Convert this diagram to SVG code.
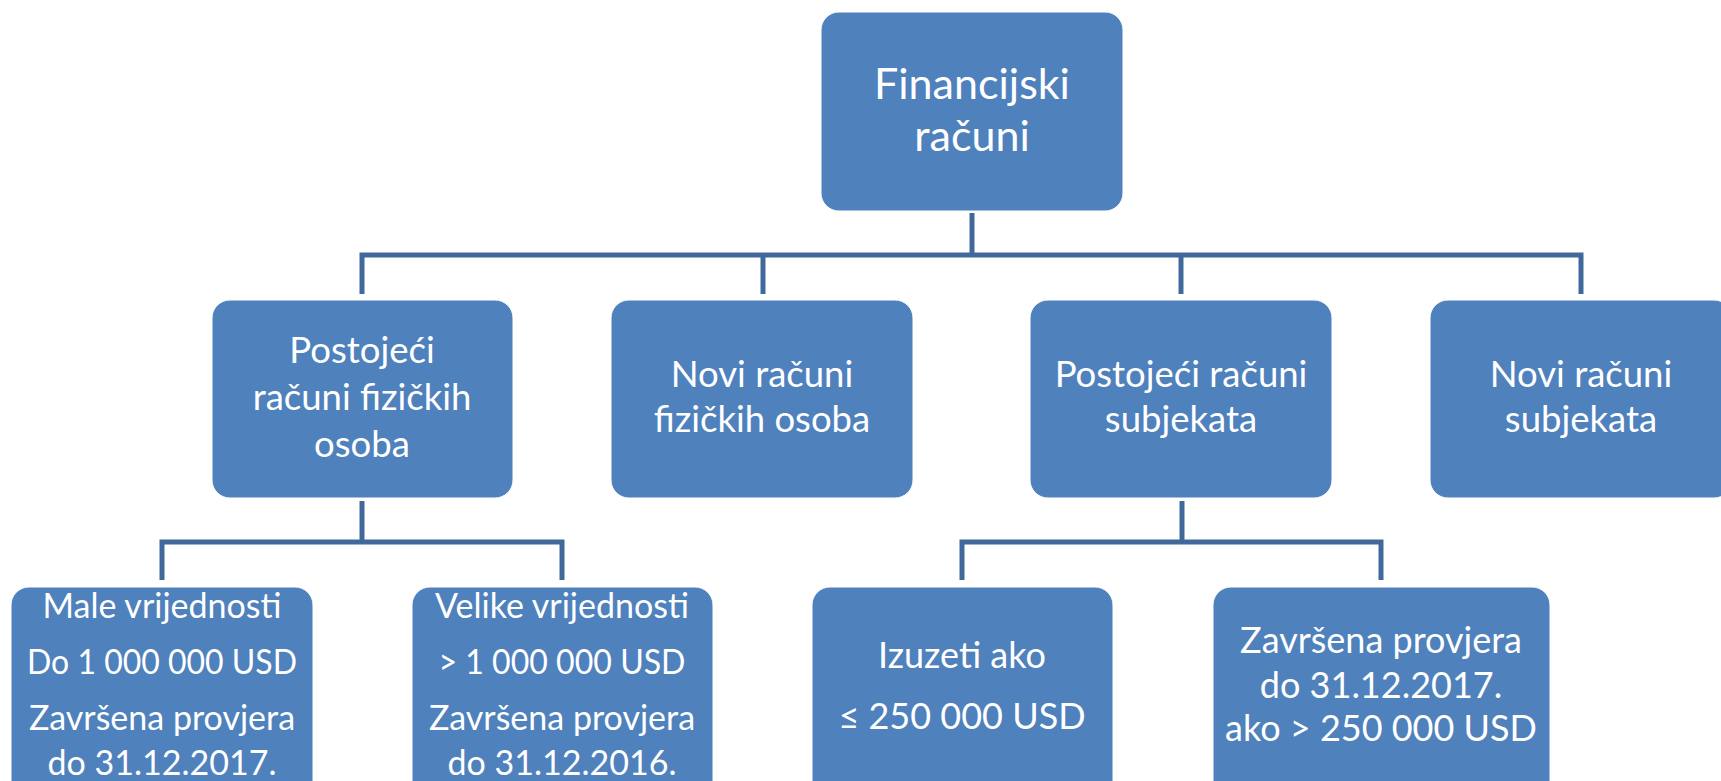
<svg xmlns="http://www.w3.org/2000/svg" width="1721" height="781" viewBox="0 0 1721 781">
<style>
.box{fill:#4F81BD;stroke:#FFFFFF;stroke-width:1}
.t{fill:#FFFFFF;font-family:Lato,"Open Sans","Liberation Sans",sans-serif;text-anchor:middle}
.c{fill:none;stroke:#41689A;stroke-width:5}
</style>
<rect width="1721" height="781" fill="#FFFFFF"/>
<g id="connectors">
<path class="c" d="M972,213 V255"/>
<path class="c" d="M362,294 V255 H1581 V294"/>
<path class="c" d="M763,255 V294"/>
<path class="c" d="M1181,255 V294"/>
<path class="c" d="M362,501 V542"/>
<path class="c" d="M162,580 V542 H562 V580"/>
<path class="c" d="M1182,501 V542"/>
<path class="c" d="M962,580 V542 H1381 V580"/>
</g>
<g id="root">
<rect class="box" x="821" y="12" width="302" height="199" rx="18"/>
<text class="t" font-size="43" x="972" y="99">Financijski</text>
<text class="t" font-size="43" x="972" y="151">računi</text>
</g>
<g id="n-postojeci-fizicke">
<rect class="box" x="212" y="300" width="301" height="198" rx="18"/>
<text class="t" font-size="36.5" x="362" y="363">Postojeći</text>
<text class="t" font-size="36.5" x="362" y="410">računi fizičkih</text>
<text class="t" font-size="36.5" x="362" y="457">osoba</text>
</g>
<g id="n-novi-fizicke">
<rect class="box" x="611" y="300" width="302" height="198" rx="18"/>
<text class="t" font-size="36.5" x="762" y="387">Novi računi</text>
<text class="t" font-size="36.5" x="762" y="432">fizičkih osoba</text>
</g>
<g id="n-postojeci-subjekti">
<rect class="box" x="1030" y="300" width="302" height="198" rx="18"/>
<text class="t" font-size="36.5" x="1181" y="387">Postojeći računi</text>
<text class="t" font-size="36.5" x="1181" y="432">subjekata</text>
</g>
<g id="n-novi-subjekti">
<rect class="box" x="1430" y="300" width="302" height="198" rx="18"/>
<text class="t" font-size="36.5" x="1581" y="387">Novi računi</text>
<text class="t" font-size="36.5" x="1581" y="432">subjekata</text>
</g>
<g id="n-male">
<rect class="box" x="11" y="587" width="302" height="230" rx="18"/>
<text class="t" font-size="34" x="162" y="618">Male vrijednosti</text>
<text class="t" font-size="34" x="162" y="674" textLength="270" lengthAdjust="spacingAndGlyphs">Do 1 000 000 USD</text>
<text class="t" font-size="34" x="162" y="730">Završena provjera</text>
<text class="t" font-size="34" x="162" y="775">do 31.12.2017.</text>
</g>
<g id="n-velike">
<rect class="box" x="412" y="587" width="301" height="230" rx="18"/>
<text class="t" font-size="34" x="562" y="618">Velike vrijednosti</text>
<text class="t" font-size="34" x="562" y="674" textLength="247" lengthAdjust="spacingAndGlyphs">&gt; 1 000 000 USD</text>
<text class="t" font-size="34" x="562" y="730">Završena provjera</text>
<text class="t" font-size="34" x="562" y="775">do 31.12.2016.</text>
</g>
<g id="n-izuzeti">
<rect class="box" x="812" y="587" width="301" height="230" rx="18"/>
<text class="t" font-size="36" x="962" y="668">Izuzeti ako</text>
<text class="t" font-size="36" x="962" y="729">≤ 250 000 USD</text>
</g>
<g id="n-zavrsena">
<rect class="box" x="1213" y="587" width="337" height="230" rx="18"/>
<text class="t" font-size="36" x="1381" y="653">Završena provjera</text>
<text class="t" font-size="36" x="1381" y="698">do 31.12.2017.</text>
<text class="t" font-size="36" x="1381" y="741">ako &gt; 250 000 USD</text>
</g>
</svg>
